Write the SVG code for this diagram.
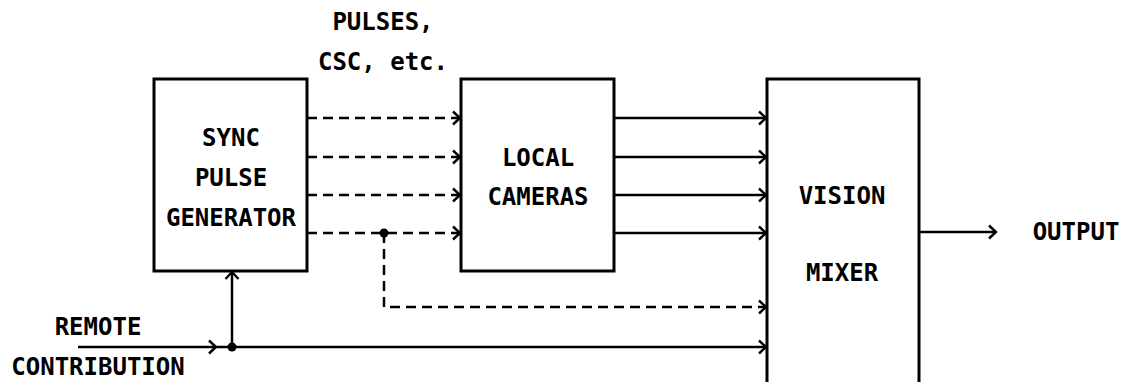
<svg xmlns="http://www.w3.org/2000/svg" width="1126" height="382" viewBox="0 0 1126 382">
<style>
.box{fill:#fff;stroke:#000;stroke-width:3}
.ln{fill:none;stroke:#000;stroke-width:2.5}
.dash{stroke-dasharray:10 6}
text{font-family:"DejaVu Sans Mono","Liberation Mono",monospace;font-size:24px;font-weight:bold;fill:#000;text-anchor:middle;dominant-baseline:central}
</style>
<defs>
<marker id="ah" viewBox="0 0 14 16" refX="12" refY="8" markerWidth="14" markerHeight="16" markerUnits="userSpaceOnUse" orient="auto">
<polyline points="5,1.5 12,8 5,14.5" fill="none" stroke="#000" stroke-width="2.4"/>
</marker>
</defs>
<g id="spg"><rect class="box" x="154" y="79" width="153" height="192"/>
<text x="231" y="138">SYNC</text><text x="231" y="178">PULSE</text><text x="231" y="218">GENERATOR</text></g>
<g id="cams"><rect class="box" x="461" y="79" width="153" height="192"/>
<text x="538" y="158">LOCAL</text><text x="538" y="197">CAMERAS</text></g>
<g id="mixer"><rect class="box" x="767" y="79" width="152" height="310"/>
<text x="842" y="196">VISION</text><text x="842" y="273">MIXER</text></g>
<g id="labels">
<text x="383" y="22">PULSES,</text><text x="383" y="62">CSC, etc.</text>
<text x="98" y="327">REMOTE</text><text x="98" y="367">CONTRIBUTION</text>
<text x="1076" y="232">OUTPUT</text>
</g>
<g id="connectors">
<line class="ln dash" x1="307" y1="118" x2="460" y2="118" marker-end="url(#ah)"/>
<line class="ln dash" x1="307" y1="157" x2="460" y2="157" marker-end="url(#ah)"/>
<line class="ln dash" x1="307" y1="195" x2="460" y2="195" marker-end="url(#ah)"/>
<line class="ln dash" x1="307" y1="233" x2="460" y2="233" marker-end="url(#ah)"/>
<polyline class="ln dash" points="384,233 384,307 766,307" marker-end="url(#ah)"/>
<circle cx="384" cy="233" r="4.5"/>
<line class="ln" x1="614" y1="118" x2="766" y2="118" marker-end="url(#ah)"/>
<line class="ln" x1="614" y1="157" x2="766" y2="157" marker-end="url(#ah)"/>
<line class="ln" x1="614" y1="195" x2="766" y2="195" marker-end="url(#ah)"/>
<line class="ln" x1="614" y1="233" x2="766" y2="233" marker-end="url(#ah)"/>
<line class="ln" x1="78" y1="347" x2="216" y2="347" marker-end="url(#ah)"/>
<line class="ln" x1="216" y1="347" x2="766" y2="347" marker-end="url(#ah)"/>
<line class="ln" x1="232" y1="347" x2="232" y2="272" marker-end="url(#ah)"/>
<circle cx="232" cy="347" r="4.5"/>
<line class="ln" x1="919" y1="232" x2="996" y2="232" marker-end="url(#ah)"/>
</g>
</svg>
